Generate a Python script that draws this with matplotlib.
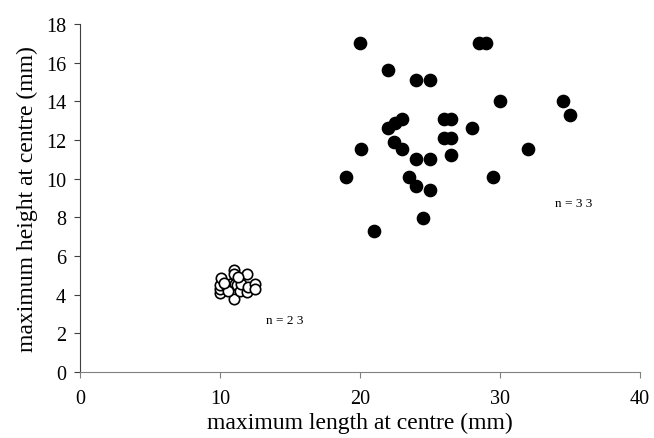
import matplotlib.pyplot as plt

# large specimens (filled)
large_len = [20, 28.5, 29, 22, 24, 25, 30, 34.5, 35, 23, 22.5, 22, 26, 26.5,
             28, 26, 26.5, 22.4, 23, 20.1, 32, 26.5, 24, 25, 19, 23.5, 29.5,
             24, 25, 24.5, 21]
large_hgt = [17, 17, 17, 15.6, 15.1, 15.1, 14, 14, 13.3, 13.1, 12.9, 12.6, 13.1, 13.1,
             12.6, 12.1, 12.1, 11.9, 11.55, 11.55, 11.55, 11.25, 11, 11, 10.1, 10.1, 10.1,
             9.6, 9.4, 7.95, 7.3]

# small specimens (open)
small_len = [10, 10, 10, 10.1, 10.5, 10.7, 10.8, 11, 11, 11, 11, 11.1, 11.2, 11.4,
             11.5, 11.9, 11.9, 12, 12.5, 12.5, 10.6, 11.3, 10.3]
small_hgt = [4.1, 4.3, 4.5, 4.85, 4.4, 4.55, 4.3, 5.3, 5.05, 4.2, 3.8, 4.55, 4.5, 4.2,
             4.55, 5.05, 4.15, 4.4, 4.55, 4.3, 4.2, 4.9, 4.6]

plt.rcParams['font.family'] = ['Liberation Serif', 'DejaVu Serif']

fig = plt.figure(figsize=(6.54, 4.39), dpi=100)
ax = fig.add_axes([0.1223, 0.1503, 0.8563, 0.7927])

ax.scatter(large_len, large_hgt, s=78, color='black', zorder=3)
ax.scatter(small_len, small_hgt, s=56, facecolor='white', edgecolor='black',
           linewidth=1.2, zorder=3)

ax.text(33.9, 8.75, 'n = 3 3', fontsize=9.5, va='center')
ax.text(13.3, 2.7, 'n = 2 3', fontsize=9.5, va='center')

ax.set_xlim(0, 40)
ax.set_ylim(0, 18)
ax.set_xticks([0, 10, 20, 30, 40])
ax.set_yticks(range(0, 19, 2))

for side in ['top', 'right']:
    ax.spines[side].set_visible(False)
ax.spines['left'].set_color('#404040')
ax.spines['bottom'].set_color('#808080')
ax.tick_params(axis='y', direction='out', length=4, color='#404040', labelsize=14.5, pad=6)
ax.tick_params(axis='x', direction='out', length=4, color='#808080', labelsize=14.5, pad=8)

ax.set_xlabel('maximum length at centre (mm)', fontsize=17, labelpad=3)
ax.set_ylabel('maximum height at centre (mm)', fontsize=17, labelpad=6)

fig.savefig('out.png', dpi=100)
